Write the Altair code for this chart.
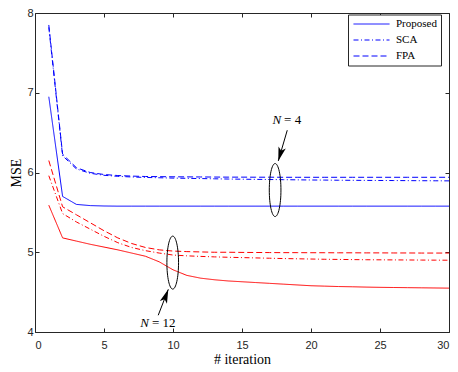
import altair as alt
import pandas as pd

# ---------------- data ----------------
iterations = list(range(1, 31))
methods = ["Proposed", "SCA", "FPA"]

prop_n4 = [6.95, 5.70, 5.60, 5.585, 5.58, 5.578, 5.578, 5.578, 5.578, 5.578,
           5.578, 5.578, 5.578, 5.578, 5.578, 5.578, 5.578, 5.578, 5.578, 5.578,
           5.578, 5.578, 5.578, 5.578, 5.578, 5.578, 5.578, 5.578, 5.578, 5.578]
sca_n4 = [7.82, 6.21, 6.045, 5.99, 5.965, 5.952, 5.944, 5.938, 5.934, 5.93,
          5.927, 5.924, 5.921, 5.918, 5.916, 5.914, 5.912, 5.91, 5.908, 5.906,
          5.905, 5.903, 5.902, 5.901, 5.90, 5.899, 5.898, 5.897, 5.896, 5.895]
fpa_n4 = [7.85, 6.23, 6.06, 6.00, 5.975, 5.962, 5.955, 5.95, 5.948, 5.946,
          5.945, 5.944, 5.943, 5.942, 5.942, 5.941, 5.941, 5.94, 5.94, 5.94,
          5.94, 5.94, 5.94, 5.94, 5.94, 5.94, 5.94, 5.94, 5.94, 5.94]

prop_n12 = [5.59, 5.18, 5.14, 5.10, 5.065, 5.03, 4.99, 4.95, 4.88, 4.78,
            4.71, 4.675, 4.655, 4.64, 4.63, 4.62, 4.61, 4.60, 4.59, 4.58,
            4.575, 4.57, 4.567, 4.563, 4.56, 4.558, 4.556, 4.554, 4.552, 4.55]
sca_n12 = [5.96, 5.485, 5.38, 5.29, 5.20, 5.12, 5.06, 5.02, 4.99, 4.965,
           4.955, 4.948, 4.942, 4.937, 4.933, 4.929, 4.925, 4.921, 4.918, 4.915,
           4.912, 4.91, 4.908, 4.906, 4.905, 4.904, 4.903, 4.902, 4.901, 4.90]
fpa_n12 = [6.15, 5.57, 5.47, 5.37, 5.27, 5.18, 5.11, 5.06, 5.03, 5.015,
           5.008, 5.004, 5.0, 5.0, 4.998, 4.997, 4.996, 4.995, 4.995, 4.994,
           4.994, 4.993, 4.993, 4.992, 4.992, 4.991, 4.991, 4.99, 4.99, 4.99]

x_ticks = [0, 5, 10, 15, 20, 25, 30]
y_ticks = [4, 5, 6, 7, 8]

# annotations (data coordinates)
ell_x = [17.4, 9.98]
ell_y = [5.78, 4.87]
arr_x0 = [18.28, 8.93]
arr_y0 = [6.53, 4.21]
arr_x1 = [17.63, 9.66]
arr_y1 = [6.145, 4.535]
arr_angle = [196, 20.5]
lab_x = [17.83, 8.26]
lab_y = [6.655, 4.114]
lab_rest = ["= 4", "= 12"]

# ---------------- tables ----------------
rows = []
series = [("4", "Proposed", prop_n4), ("4", "SCA", sca_n4), ("4", "FPA", fpa_n4),
          ("12", "Proposed", prop_n12), ("12", "SCA", sca_n12), ("12", "FPA", fpa_n12)]
for n, m, vals in series:
    for it, v in zip(iterations, vals):
        rows.append({"iteration": it, "mse": v, "N": n, "method": m, "series": f"{m}-{n}"})
df = pd.DataFrame(rows)

ann = pd.DataFrame({
    "ex": ell_x, "ey": ell_y,
    "x0": arr_x0, "y0": arr_y0, "x1": arr_x1, "y1": arr_y1, "angle": arr_angle,
    "lx": lab_x, "ly": lab_y, "rest": lab_rest,
})

AX = "#262626"
BLUE = "#0000ff"
RED = "#ff0000"
xs = alt.Scale(domain=[0, 30], nice=False, zero=False)
ys = alt.Scale(domain=[4, 8], nice=False, zero=False)

LEGEND_LINE = "M-4,0L4,0"

lines = alt.Chart(df).mark_line(strokeWidth=1, color=BLUE).encode(
    x=alt.X("iteration:Q", scale=xs, axis=alt.Axis(
        orient="bottom", values=x_ticks, domain=False, grid=False, offset=-4,
        tickSize=4, tickColor=AX, labelPadding=7, labelFont="Liberation Sans",
        labelFontSize=11, labelColor=AX, title="# iteration",
        titleFont="Liberation Serif", titleFontSize=14, titleFontWeight="normal",
        titleColor="black", titlePadding=2)),
    y=alt.Y("mse:Q", scale=ys, axis=alt.Axis(
        orient="left", values=y_ticks, domain=False, grid=False, offset=-4,
        tickSize=4, tickColor=AX, labelPadding=2, labelFont="Liberation Sans",
        labelFontSize=11, labelColor=AX, title="MSE",
        titleFont="Liberation Serif", titleFontSize=14, titleFontWeight="normal",
        titleColor="black", titlePadding=3)),
    color=alt.Color("N:N", scale=alt.Scale(domain=["4", "12"], range=[BLUE, RED]), legend=None),
    strokeDash=alt.StrokeDash("method:N", scale=alt.Scale(
        domain=methods, range=[[1, 0], [5, 2.5, 1, 2.5], [6, 3]]),
        legend=alt.Legend(
            title=None, orient="none", legendX=313, legendY=1.5,
            fillColor="white", strokeColor=AX, padding=4, cornerRadius=0,
            symbolType=LEGEND_LINE, symbolSize=81, symbolStrokeWidth=1,
            symbolOffset=14, symbolStrokeColor=BLUE, symbolFillColor="transparent",
            labelFont="Liberation Serif",
            labelFontSize=11, labelColor="black", labelOffset=19, rowPadding=4)),
    detail="series:N",
)

ELLIPSE = "M0,-1A0.22,1,0,1,1,0,1A0.22,1,0,1,1,0,-1Z"
ellipses = alt.Chart(ann).mark_point(shape=ELLIPSE, size=2809, filled=False,
                                     color="black", strokeWidth=1, opacity=1).encode(
    x=alt.X("ex:Q", scale=xs, axis=alt.Axis(
        orient="top", values=x_ticks, labels=False, title=None, domain=False,
        grid=False, offset=-4, tickSize=4, tickColor=AX)),
    y=alt.Y("ey:Q", scale=ys, axis=alt.Axis(
        orient="right", values=y_ticks, labels=False, title=None, domain=False,
        grid=False, offset=-4, tickSize=4, tickColor=AX)),
)

rules = alt.Chart(ann).mark_rule(color="black", strokeWidth=1).encode(
    x=alt.X("x0:Q", scale=xs, axis=None), y=alt.Y("y0:Q", scale=ys, axis=None),
    x2="x1:Q", y2="y1:Q",
)

ARROW = "M0,0L0.27,1L0,0.75L-0.27,1Z"
heads = alt.Chart(ann).mark_point(shape=ARROW, size=784, filled=True,
                                  color="black", opacity=1, strokeWidth=0).encode(
    x=alt.X("x1:Q", scale=xs, axis=None), y=alt.Y("y1:Q", scale=ys, axis=None),
    angle=alt.Angle("angle:Q", scale=None),
)

lab_n = alt.Chart(ann).mark_text(font="Liberation Serif", fontSize=13, fontStyle="italic",
                                 align="right", baseline="middle", color="black").encode(
    x=alt.X("lx:Q", scale=xs, axis=None), y=alt.Y("ly:Q", scale=ys, axis=None),
    text=alt.value("N"),
)
lab_r = alt.Chart(ann).mark_text(font="Liberation Serif", fontSize=13,
                                 align="left", baseline="middle", dx=3, color="black").encode(
    x=alt.X("lx:Q", scale=xs, axis=None), y=alt.Y("ly:Q", scale=ys, axis=None),
    text="rest:N",
)

chart = alt.layer(lines, ellipses, rules, heads, lab_n, lab_r).properties(
    width=414, height=319,
    autosize=alt.AutoSizeParams(type="none"),
    padding={"left": 27, "top": 5, "right": 1, "bottom": 38},
).configure_view(stroke=AX, strokeWidth=1).configure_legend(
    symbolStrokeColor=BLUE, symbolStrokeWidth=1
)

chart.save("out.html", embed_options={"renderer": "svg", "actions": False})
